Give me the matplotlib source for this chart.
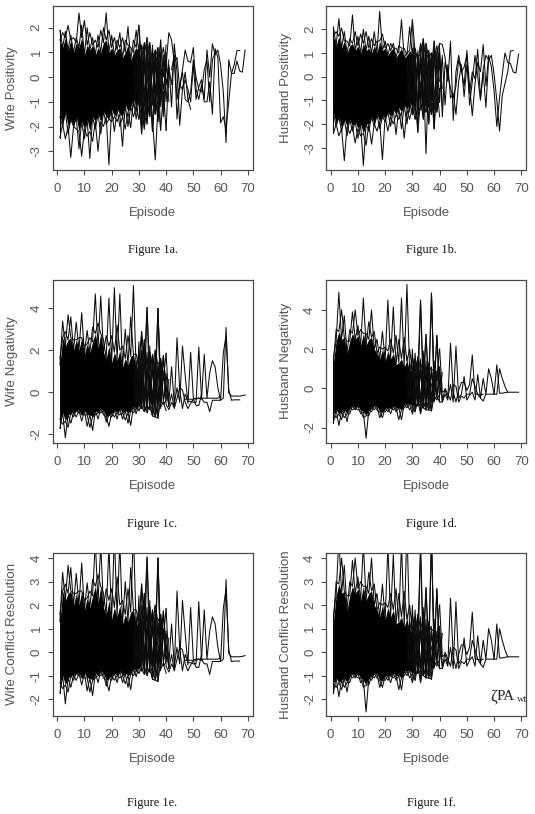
#!/usr/bin/env python3
# Six panels of episode trajectories.
# up/lo = extreme values per episode, hi/bot = where the dense black part stops,
# mesh and tail = the single lines that can still be followed.
import matplotlib
matplotlib.use('Agg')
import matplotlib.pyplot as plt
import numpy as np

#Wife positivity
a_up = [1.9,1.8,1.85,2.1,1.7,1.6,1.6,2.6,2.1,2.3,2.0,1.8,1.6,1.5,1.7,1.9,2.0,2.6,1.9,1.7,1.6,1.5,1.8,1.6,1.5,2.05,1.2,1.5,1.9,2.1,1.3,1.4,1.6,1.4,1.0,1.1,1.2,1.5,1.2,1.3]
a_lo = [-2.45,-2.0,-2.5,-2.3,-3.25,-2.0,-2.1,-2.9,-3.2,-2.5,-2.4,-3.3,-2.6,-2.1,-3.0,-2.3,-2.0,-1.9,-3.55,-1.8,-2.2,-1.8,-2.0,-2.8,-2.1,-2.0,-2.05,-1.6,-1.7,-1.7,-2.3,-2.1,-1.9,-1.6,-2.2,-1.5,-1.8,-2.15,-1.6,-2.15]
a_hi = [1.5,1.2,1.6,1.1,1.5,1.0,1.4,1.2,1.6,0.9,1.3,1.1,1.3,0.9,1.2,1.0,1.4,1.5,1.0,1.2,0.9,1.1,1.2,0.8,1.0,1.3,0.7,1.0,1.2,1.0,0.7,0.9,1.0,0.5,0.6,0.8,0.3,0.7,0.0,0.4]
a_bot = [-1.6,-1.9,-1.4,-2.0,-1.7,-2.0,-1.6,-2.2,-1.8,-2.1,-1.7,-2.2,-1.6,-1.8,-1.5,-1.8,-1.4,-1.6,-1.7,-1.3,-1.6,-1.3,-1.5,-1.6,-1.1,-1.4,-1.2,-0.9,-1.2,-0.9,-1.2,-0.9,-1.1,-0.7,-1.0,-0.7,-0.9,-0.4,-0.6,-0.1]
a_mesh = [
    [0.9,-1.4,0.6,-0.9,1.2,-1.6,0.7,-1.1,0.9,-0.6,1.0,-1.4,0.5,-0.4],
    [-1.2,1.1,-1.0,0.8,-2.0,0.9,-1.3,1.3,-0.8,0.6,-1.2,0.9,-1.0,0.7],
    [0.2,-0.6,1.3,-1.7,0.4,-0.3,1.0,-0.7,-1.2,1.0,-0.5,-0.8,1.0,-1.0],
]
a_tail = [
    (34, [-0.4,-1.7,-3.35,-1.2,0.3,-0.5,0.5,1.8,1.5,0.6,0.8,-0.5,0.3,1.1,0.65,0.6,1.2,-0.5,-0.9,-0.3,-0.9,1.1,0.0,1.35,0.9,1.1,0.5,-0.6,-2.65,0.7,0.15,0.15,0.65,0.25,0.2,1.1]),
    (38, [-1.0,0.8,-0.3,0.5,-1.2,1.35,0.2,-1.95,-0.5,0.2,-0.9,-1.3]),
    (40, [-2.15,0.4,-0.3,0.9,-1.7,-0.3,-0.5,-0.1,-0.5,-1.0,0.5,-0.9,-0.4,-0.1,-1.0,-1.0,-0.2,-1.5,1.15,0.8,-1.85,-1.6,-2.1,-1.0,0.15,0.5,1.07,1.08]),
    (42, [0.3,0.9,-0.9,-0.3,0.2,-0.9,-1.0,-0.6,0.7,0.0,-0.5,-0.6,0.3,0.7,-1.0,0.7,1.0]),
]

#Husband positivity
b_up = [2.1,1.9,2.45,2.05,1.9,1.5,1.6,2.6,1.9,1.7,1.8,2.0,1.9,1.7,1.6,1.9,1.5,2.75,1.8,1.5,1.4,1.4,1.4,1.2,1.3,2.4,1.2,1.0,2.1,2.4,1.2,0.9,1.4,1.6,1.4,1.1,1.0,1.5,1.3,1.4]
b_lo = [-2.4,-2.1,-2.5,-2.3,-3.55,-2.5,-2.4,-2.3,-2.8,-2.6,-2.5,-3.75,-2.9,-2.3,-2.85,-2.1,-2.3,-2.2,-3.5,-1.9,-2.3,-2.1,-2.0,-2.45,-1.8,-2.2,-2.6,-2.0,-1.8,-1.6,-1.8,-2.35,-1.4,-1.8,-1.5,-2.0,-1.6,-2.2,-1.5,-1.7]
b_hi = [1.7,1.3,1.7,1.2,1.5,1.0,1.3,1.4,1.1,1.3,1.0,1.4,1.1,1.2,1.0,1.3,1.0,1.5,1.1,1.2,0.9,1.1,1.2,0.8,1.0,1.2,0.8,0.9,1.1,0.9,1.0,0.6,0.9,1.0,0.6,0.8,0.4,0.8,0.1,0.4]
b_bot = [-1.5,-2.0,-1.7,-2.2,-1.8,-2.1,-1.8,-2.1,-1.9,-2.2,-2.0,-2.4,-2.0,-2.0,-1.7,-2.0,-1.6,-1.9,-1.7,-1.7,-1.5,-1.7,-1.4,-1.6,-1.3,-1.5,-1.2,-1.4,-1.1,-1.3,-1.0,-1.3,-1.0,-1.1,-0.9,-1.1,-0.7,-0.9,-0.4,-0.5]
b_mesh = [
    [0.8,-1.5,0.9,-1.0,1.1,-1.4,0.8,-1.2,1.0,-0.7,0.9,-1.5,0.6,-0.5],
    [-1.0,1.0,-1.3,0.7,-1.6,0.7,-1.5,1.2,-0.9,0.8,-1.4,1.1,-1.1,0.9],
    [0.3,-0.8,1.2,-1.4,0.5,-0.5,1.1,-0.9,-1.3,1.0,-0.6,-1.0,1.2,-1.2],
]
b_tail = [
    (34, [0.3,-3.25,0.2,0.7,-2.2,1.0,1.4,1.35,0.8,-0.2,1.5,-1.85,0.2,0.9,0.3,-0.4,1.1,-0.4,-1.65,-0.3,0.6,0.2,1.35,-0.4,0.9,0.4,-0.6,-2.1,-0.9,0.1,1.0,0.6,0.55,0.2,0.15,0.95]),
    (40, [-0.2,0.8,-1.2,0.5,-0.9,-0.7,-1.6,-0.2,0.5,-0.85,0.5,-0.7,0.2,-0.1,1.15,-0.9,0.2,-1.3,0.7,0.9,0.1,-1.0,-2.3,-0.8,-0.3,0.2,1.08,1.1]),
    (38, [1.2,-0.5,1.0,-1.7,0.6,0.1,-0.5,-0.9,-0.4,0.7,0.2,0.4,0.9,-1.2,-0.2,0.9,0.0,-1.0,0.3,0.9,0.7]),
]

#Wife negativity, the conflict resolution panel uses the same lines
c_up = [1.6,3.4,2.9,3.7,3.6,2.5,3.35,2.6,3.8,2.2,2.95,2.6,3.1,4.7,3.3,4.6,2.5,2.7,4.5,2.7,5.0,3.2,4.7,2.2,3.0,2.7,3.6,5.1,1.8,1.8,2.9,2.5,4.05,1.9,1.8,2.0,4.0,1.6,1.75,1.85]
c_lo = [-1.75,-1.55,-2.2,-1.7,-1.5,-1.2,-1.2,-1.0,-1.4,-1.1,-1.65,-1.7,-1.85,-1.1,-1.3,-1.0,-1.1,-1.45,-1.65,-1.2,-1.2,-1.3,-1.1,-1.3,-1.35,-1.5,-1.6,-1.0,-1.05,-0.9,-0.8,-0.95,-1.0,-0.85,-1.15,-1.2,-1.25,-0.7,-0.6,-0.9]
c_hi = [1.3,2.6,2.2,2.5,2.6,2.0,2.5,2.0,2.6,1.8,2.3,1.9,2.4,2.8,2.1,2.8,1.9,1.6,2.2,1.4,1.9,1.5,2.0,1.2,1.6,1.3,1.7,1.8,1.1,1.3,1.2,1.5,1.2,0.9,1.2,0.7,1.3,0.5,0.6,0.3]
c_bot = [-1.3,-1.0,-1.4,-1.1,-1.0,-1.0,-0.9,-0.9,-1.1,-0.9,-1.1,-1.1,-1.2,-0.9,-1.0,-0.8,-0.9,-1.2,-1.1,-1.0,-0.9,-1.0,-0.8,-1.0,-0.9,-1.0,-0.9,-0.7,-0.8,-0.6,-0.7,-0.6,-0.7,-0.6,-0.7,-0.5,-0.6,-0.4,-0.5,-0.4]
c_mesh = [
    [1.8,-0.6,2.4,-0.5,1.6,-0.7,2.2,-0.4,1.4,-0.6,1.5,-0.5,0.9,-0.7],
    [-0.5,1.5,-0.7,2.0,-0.3,1.9,-0.5,1.3,-0.7,1.2,-0.5,1.0,-0.4,0.6],
    [0.7,-0.8,1.2,0.1,-0.8,1.0,0.2,-0.7,0.8,0.3,-0.8,0.7,0.2,-0.6],
]
c_tail = [
    (37, [4.0,-0.3,1.75,-0.6,-0.85,-0.5,-0.75,2.6,0.1,-0.8,-0.1,-0.45,-0.45,-0.5,-0.5,2.15,-0.3,-0.5,-0.5,-0.95,-0.4,-0.4,-0.4,-0.4,-0.3,3.09,-0.05,-0.2,-0.2,-0.2,-0.2,-0.18,-0.15]),
    (40, [1.85,-0.5,1.2,-0.6,0.2,-0.5,2.2,0.8,-0.55,1.9,-0.3,-0.35,-0.3,-0.35,1.8,-0.3,0.9,1.5,1.2,0.2,-0.4,1.85,2.7,0.1,-0.4,-0.38,-0.38,-0.38]),
    (38, [1.6,-0.4,0.3,-0.7,-0.1,-0.8,-0.3,0.2,0.1,-0.5,-0.8,-0.55,-0.35,-0.65,-0.65,-0.1]),
    (34, [-0.7,-1.15,-1.2,-1.25]),
    (47, [-0.35,-0.35,-0.35,-0.35,-0.3,-0.3,-0.3,-0.3,-0.3,-0.3,-0.3,-0.3,-0.3,-0.25]),
]

#Husband negativity, the conflict resolution panel uses the same lines
d_up = [1.55,3.0,4.9,4.0,3.7,2.4,3.0,3.9,4.0,3.2,3.0,4.6,2.8,3.4,4.0,2.9,2.5,2.1,2.9,2.1,4.5,2.5,4.15,2.7,2.5,4.6,2.6,5.3,2.0,1.6,1.5,1.6,4.5,1.4,2.75,1.2,4.85,1.0,2.7,2.0]
d_lo = [-1.75,-1.5,-1.9,-1.6,-1.5,-1.7,-1.3,-1.1,-1.1,-1.1,-1.3,-1.5,-2.55,-1.4,-1.2,-1.1,-1.1,-1.5,-1.5,-1.2,-1.2,-1.3,-1.1,-1.2,-1.6,-1.6,-1.0,-1.0,-1.1,-1.3,-1.2,-0.9,-1.3,-1.0,-1.1,-1.1,-1.15,-0.6,-0.6,-0.7]
d_hi = [1.3,2.4,2.9,2.5,2.6,1.8,2.4,2.8,2.5,2.7,2.2,2.8,2.2,2.5,2.6,2.0,1.8,1.5,2.0,1.4,1.9,1.5,1.8,1.2,1.3,1.5,1.1,1.4,0.9,0.9,0.8,0.9,1.0,0.6,0.9,0.4,0.9,0.3,0.6,0.2]
d_bot = [-1.3,-1.1,-1.3,-1.2,-1.1,-1.3,-1.0,-0.9,-1.0,-0.9,-1.1,-1.2,-1.4,-1.1,-1.0,-0.9,-0.9,-1.2,-1.2,-1.0,-1.0,-1.0,-0.9,-1.0,-1.0,-1.1,-0.8,-0.8,-0.8,-0.9,-0.8,-0.6,-0.8,-0.6,-0.7,-0.6,-0.7,-0.4,-0.4,-0.3]
d_mesh = [
    [1.6,-0.7,2.0,-0.5,1.4,-0.8,1.9,-0.4,1.3,-0.6,1.4,-0.5,0.9,-0.6],
    [-0.6,1.3,-0.6,1.8,-0.3,1.5,-0.7,1.4,-0.6,1.1,-0.6,0.9,-0.4,0.8],
    [0.6,-0.7,1.1,0.0,-0.9,0.9,0.1,-0.8,0.7,0.2,-0.7,0.6,0.1,-0.5],
]
d_tail = [
    (37, [4.85,-0.2,2.7,-0.7,-0.7,-0.3,-0.6,2.3,-0.2,-0.7,-0.1,0.3,0.3,-0.1,0.2,1.7,-0.3,-0.3,-0.5,-0.65,-0.3,-0.3,-0.3,-0.3,1.2,-0.25,-0.25,-0.22,-0.2,-0.2,-0.2,-0.2,-0.2]),
    (40, [2.0,-0.2,-0.1,-0.5,0.2,-0.7,2.15,-0.5,-0.3,0.6,-0.6,-0.35,-0.2,-0.6,0.7,-0.5,0.5,-0.3,1.0,0.5,-0.3,-0.3,1.0,0.5,0.1,-0.2]),
    (38, [1.0,-0.4,1.1,-0.7,0.0,-0.3,-0.6,0.2,0.1,-0.7,-0.4,-0.5,-0.3,-0.3,0.5,0.1,-0.3,-0.35,-0.3]),
    (33, [-0.8,-1.0,-1.1,-1.1,-1.15]),
]

positivity_ticks = [-3, -2, -1, 0, 1, 2]
negativity_ticks = [-2, 0, 2, 4]
resolution_ticks = [-2, -1, 0, 1, 2, 3, 4]
x_ticks = [0, 10, 20, 30, 40, 50, 60, 70]

W, H = 535, 814
LINE = '#0c0c0c'
AXIS = '#4a4a4a'
TEXT = '#555555'

plt.rcParams['font.family'] = ['Liberation Sans', 'DejaVu Sans']

fig = plt.figure(figsize=(W / 100, H / 100), dpi=100)


def px_text(x, y, s, **kw):  #text placed by pixel position of the picture
    fig.text(x / W, 1 - y / H, s, ha='center', va='center', **kw)


def draw_panel(left, top, bottom, ylim, yticks, ylabel, caption, rows, data):
    up, lo, hi, bot, mesh, tail = data
    ax = fig.add_axes([left / W, 1 - bottom / H, 200 / W, (bottom - top) / H])
    ep = np.arange(1, len(up) + 1)
    up, lo, hi, bot = map(np.array, (up, lo, hi, bot))
    even = ep % 2 == 0

    #the part where lines overlap completely, up to about episode 31
    solid = ep <= 31
    ax.fill_between(ep[solid], bot[solid], hi[solid], color='black', lw=0)

    #spikes out of the black part, one line for odd and one for even episodes
    for a, b in ((up, hi), (lo, bot)):
        ax.plot(ep, np.where(even, a, b), color=LINE, lw=0.75)
        ax.plot(ep, np.where(even, b, a), color=LINE, lw=0.75)

    #after that the lines can start to be told apart, thinning out by episode 38
    late = (ep >= 30) & (ep <= 38)
    for a, b in ((up, bot), (hi, lo), (hi, bot)):
        ax.plot(ep[late], np.where(even, a, b)[late], color=LINE, lw=0.7)
        ax.plot(ep[late], np.where(even, b, a)[late], color=LINE, lw=0.7)
    ax.plot([1, 1], [lo[0], up[0]], color=LINE, lw=0.75)

    for m in mesh:
        ax.plot(np.arange(28, 28 + len(m)), m, color=LINE, lw=0.7)
    for start, vals in tail:
        ax.plot(np.arange(start, start + len(vals)), vals, color=LINE, lw=0.75)

    ax.set_xlim(-1.72, 71.72)
    ax.set_ylim(*ylim)
    ax.set_xticks(x_ticks)
    ax.set_yticks(yticks)
    ax.set_yticklabels([str(t) for t in yticks], rotation=90, va='center')
    ax.tick_params(axis='both', length=3.6, width=0.8, color=AXIS,
                   labelcolor=TEXT, labelsize=9.5)
    ax.tick_params(axis='x', pad=6)
    ax.tick_params(axis='y', pad=3.5)
    for s in ax.spines.values():
        s.set_color(AXIS)
        s.set_linewidth(0.9)

    x_mid = left + 100
    px_text(x_mid, rows[0], 'Episode', color=TEXT, fontsize=9.4)
    px_text(left - 40, (top + bottom) / 2 + rows[2], ylabel, color=TEXT,
            fontsize=9.6, rotation=90)
    px_text(x_mid + (5 if left > 100 else 0), rows[1], caption, color='#111111',
            fontsize=8.8, family=['Liberation Serif'])
    return ax


draw_panel(52.5, 6, 169.5, (-3.74, 2.88), positivity_ticks, 'Wife Positivity', 'Figure 1a.',
           (213, 250, 0), (a_up, a_lo, a_hi, a_bot, a_mesh, a_tail))
draw_panel(326, 6, 169.5, (-3.92, 2.98), positivity_ticks, 'Husband Positivity', 'Figure 1b.',
           (213, 250, 0), (b_up, b_lo, b_hi, b_bot, b_mesh, b_tail))
draw_panel(52.5, 279.5, 443, (-2.45, 5.39), negativity_ticks, 'Wife Negativity', 'Figure 1c.',
           (486, 524, 0), (c_up, c_lo, c_hi, c_bot, c_mesh, c_tail))
draw_panel(326, 279.5, 443, (-2.79, 5.55), negativity_ticks, 'Husband Negativity', 'Figure 1d.',
           (486, 524, 0), (d_up, d_lo, d_hi, d_bot, d_mesh, d_tail))
draw_panel(52.5, 552.5, 716, (-2.72, 4.24), resolution_ticks, 'Wife Conflict Resolution', 'Figure 1e.',
           (759, 803, 0), (c_up, c_lo, c_hi, c_bot, c_mesh, c_tail))
draw_panel(326, 552.5, 716, (-2.72, 4.24), resolution_ticks, 'Husband Conflict Resolution', 'Figure 1f.',
           (759, 803, 0), (d_up, d_lo, d_hi, d_bot, d_mesh, d_tail))

#label typed over the last panel
fig.text(490 / W, 1 - 696 / H, '\u03b6', color='#222222', fontsize=12,
         family=['Liberation Serif', 'DejaVu Serif'], va='center')
fig.text(497 / W, 1 - 696 / H, 'PA', color='#222222', fontsize=11,
         family=['Liberation Serif'], va='center')
fig.text(517 / W, 1 - 699 / H, 'wt', color='#333333', fontsize=7.5,
         family=['Liberation Serif'], va='center')

fig.savefig('out.png', dpi=100)
